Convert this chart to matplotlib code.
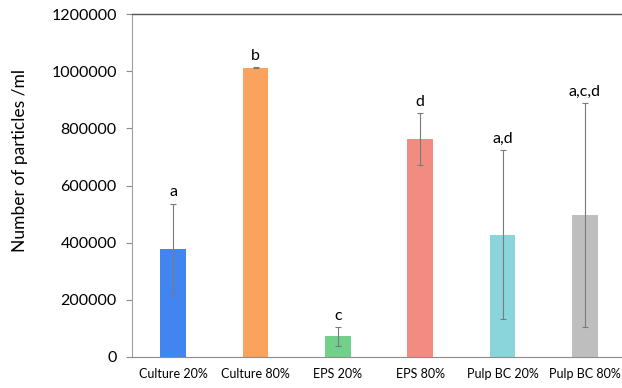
import matplotlib.pyplot as plt
import numpy as np

plt.rcParams["font.family"] = ["Lato", "DejaVu Sans"]

# particle counts per treatment
groups = ['Culture 20%', 'Culture 80%', 'EPS 20%', 'EPS 80%', 'Pulp BC 20%', 'Pulp BC 80%']
means = [377000, 1012000, 72000, 762000, 428000, 497000]
errors = [160000, 2000, 32000, 90000, 296000, 393000]
letters = ['a', 'b', 'c', 'd', 'a,d', 'a,c,d']
colors = ['#4285F0', '#FAA35F', '#72D08B', '#F28B82', '#8AD4DC', '#BEBEBE']

fig = plt.figure(figsize=(6.22, 3.88), dpi=100)
ax = fig.add_axes([132 / 622, 1 - 357 / 388, 1 - 132 / 622, 343 / 388])

x = np.arange(len(groups))
ax.bar(x, means, width=0.31, color=colors, zorder=2)
ax.errorbar(x, means, yerr=errors, fmt='none', ecolor='#7a7a7a',
            elinewidth=0.8, capsize=2, capthick=0.8, zorder=3)

for xi, m, e, lab in zip(x, means, errors, letters):
    ax.annotate(lab, (xi, m + e), xytext=(0, 3), textcoords='offset points',
                ha='center', va='bottom', fontsize=11.5)

ax.set_xlim(-0.5, 5.45)
ax.set_ylim(0, 1200000)
ax.set_yticks(np.arange(0, 1200001, 200000))
ax.set_yticklabels(['%d' % v for v in np.arange(0, 1200001, 200000)], fontsize=11.5)
ax.set_xticks(x)
ax.set_xticklabels(groups, fontsize=9)
ax.tick_params(axis='x', length=0, pad=8)
ax.tick_params(axis='y', length=4, color='#8c8c8c', pad=7)
ax.set_ylabel('Number of particles /ml', fontsize=12.5)
ax.yaxis.set_label_coords(-0.212, 0.572)

ax.spines['right'].set_visible(False)
ax.spines['left'].set_color('#a0a0a0')
ax.spines['bottom'].set_color('#8c8c8c')
ax.spines['top'].set_color('#555555')
ax.spines['top'].set_linewidth(1.0)

fig.savefig('out.png', dpi=100)
